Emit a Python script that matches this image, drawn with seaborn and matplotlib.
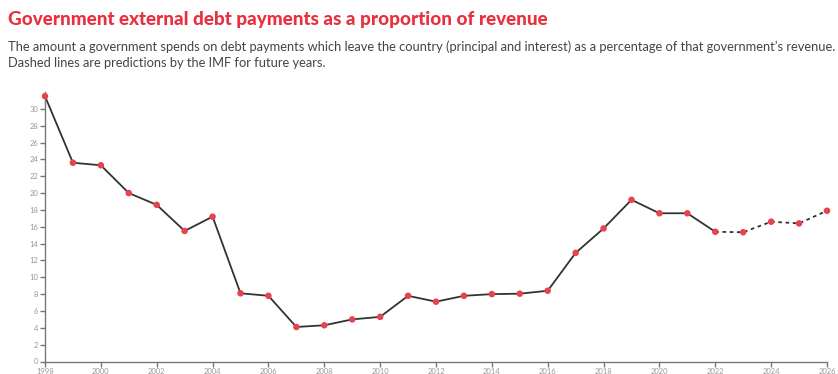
import matplotlib
matplotlib.use("Agg")
import matplotlib.pyplot as plt
import seaborn as sns
import pandas as pd

# Government external debt payments as % of revenue
years = list(range(1998, 2027))
values = [31.5, 23.6, 23.3, 20.0, 18.6, 15.5, 17.2, 8.1, 7.8, 4.1,
          4.3, 5.0, 5.3, 7.8, 7.1, 7.8, 8.0, 8.05, 8.4, 12.9,
          15.8, 19.2, 17.6, 17.6, 15.4, 15.35, 16.6, 16.4, 17.9]
last_actual_year = 2022
y_ticks = list(range(0, 31, 2))
x_ticks = list(range(1998, 2027, 2))

title = "Government external debt payments as a proportion of revenue"
subtitle = ("The amount a government spends on debt payments which leave the country "
            "(principal and interest) as a percentage of that government\u2019s revenue.\n"
            "Dashed lines are predictions by the IMF for future years.")

df = pd.DataFrame({"year": years, "value": values})
actual = df[df["year"] <= last_actual_year]
forecast = df[df["year"] >= last_actual_year]

sns.set_theme(style="white")
plt.rcParams["font.family"] = ["Lato", "DejaVu Sans"]

fig = plt.figure(figsize=(8.38, 3.74), dpi=100)
left_px, right_px = 45, 827
bottom_px, top_px = 361.5, 92
ax = fig.add_axes([left_px / 838, (374 - bottom_px) / 374, (right_px - left_px) / 838,
                   (bottom_px - top_px) / 374])

line_col = "#333333"
dot_col = "#e8414f"
axis_col = "#777777"

sns.lineplot(data=actual, x="year", y="value", ax=ax, color=line_col, lw=1.3)
sns.lineplot(data=forecast, x="year", y="value", ax=ax, color=line_col, lw=1.3,
             linestyle=(0, (2, 2)))
sns.scatterplot(data=df, x="year", y="value", ax=ax, color=dot_col, s=22,
                edgecolor="none", zorder=5, clip_on=False)

ax.set_xlim(1998, 2026)
ax.set_ylim(0, 32)
ax.set_xticks(x_ticks)
ax.set_yticks(y_ticks)
ax.set_xlabel("")
ax.set_ylabel("")

for side in ("top", "right"):
    ax.spines[side].set_visible(False)
for side in ("left", "bottom"):
    ax.spines[side].set_color(axis_col)
    ax.spines[side].set_linewidth(1.0)

ax.tick_params(axis="both", which="major", direction="out", length=3.5, width=1,
               color=axis_col, labelcolor="#999999", labelsize=5.5, pad=1.5,
               left=True, bottom=True)

fig.text(8 / 838, 1 - 20 / 374, title, color="#e8303f", fontsize=13.6,
         fontweight="black", va="center", ha="left")
fig.text(8 / 838, 1 - 40 / 374, subtitle, color="#444444", fontsize=9.25,
         va="top", ha="left", linespacing=1.4)

fig.savefig("out.png", dpi=100)
